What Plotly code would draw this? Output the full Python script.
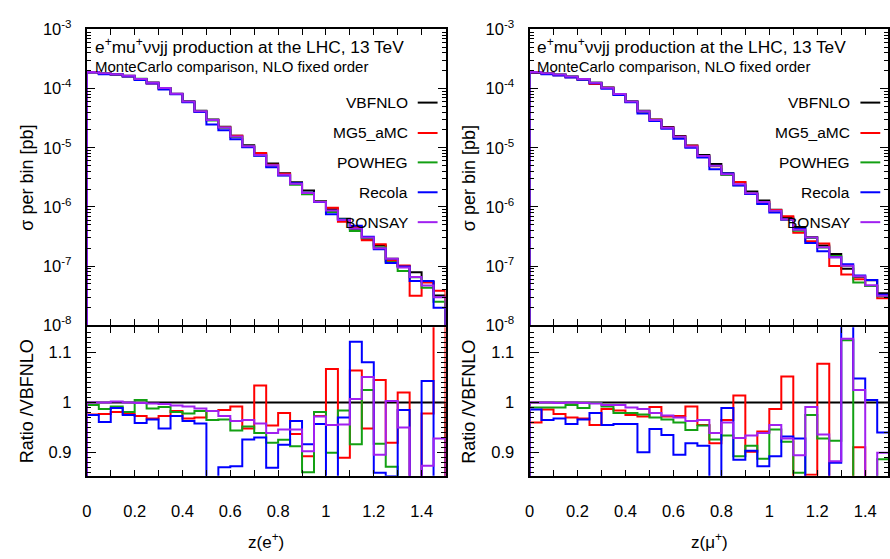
import plotly.graph_objects as go

W, H = 890, 559
FONT = "Liberation Sans, Arial, Helvetica, sans-serif"

# Bin edges in z (30 bins of width 0.05)
bin_edges = [round(0.05 * i, 2) for i in range(31)]

# ---------------- z(e+) ----------------
vbfnlo_e = [1.91e-4, 1.82e-4, 1.74e-4, 1.64e-4, 1.45e-4, 1.26e-4, 1.02e-4, 8.2e-5, 6.1e-5, 4.2e-5,
            3.0e-5, 2.26e-5, 1.60e-5, 1.10e-5, 7.9e-6, 5.4e-6, 3.7e-6, 2.6e-6, 1.9e-6, 1.26e-6,
            9.1e-7, 6.3e-7, 4.3e-7, 2.9e-7, 2.24e-7, 1.33e-7, 1.0e-7, 7.9e-8, 5.4e-8, 3.2e-8]
ratio_mg5_e = [0.976, 0.977, 0.981, 0.977, 0.973, 0.968, 0.973, 0.983, 0.968, 0.970,
               0.983, 0.985, 0.992, 0.948, 1.034, 0.954, 0.979, 0.937, 0.892, 0.973,
               1.067, 0.889, 1.064, 0.948, 1.045, 0.919, 1.020, 0.40, 0.978, 1.20]
ratio_powheg_e = [0.995, 0.987, 0.992, 0.981, 1.005, 0.988, 0.991, 0.981, 0.978, 0.983,
                  0.965, 0.966, 0.944, 0.952, 0.939, 0.919, 0.925, 0.912, 0.860, 0.981,
                  0.899, 0.984, 0.916, 1.025, 0.917, 0.871, 0.83, 0.82, 0.80, 0.78]
ratio_recola_e = [0.975, 0.961, 0.989, 0.975, 0.959, 0.966, 0.948, 0.973, 0.963, 0.958,
                  0.82, 0.870, 0.872, 0.926, 0.930, 0.869, 0.915, 0.963, 0.916, 0.957,
                  0.83, 0.970, 1.122, 1.081, 0.859, 0.852, 0.985, 0.71, 1.043, 0.62]
ratio_bonsay_e = [1.000, 1.000, 1.002, 1.000, 0.999, 0.998, 0.997, 0.994, 0.992, 0.988,
                  0.983, 0.973, 0.963, 0.965, 0.958, 0.939, 0.946, 0.946, 0.902, 0.972,
                  0.955, 0.956, 1.007, 1.051, 0.895, 1.003, 0.950, 0.83, 0.873, 0.928]

# ---------------- z(mu+) ----------------
vbfnlo_m = [1.90e-4, 1.81e-4, 1.72e-4, 1.60e-4, 1.45e-4, 1.25e-4, 1.04e-4, 8.1e-5, 6.1e-5, 4.2e-5,
            3.0e-5, 2.23e-5, 1.58e-5, 1.09e-5, 7.5e-6, 5.3e-6, 3.7e-6, 2.6e-6, 1.83e-6, 1.29e-6,
            9.0e-7, 6.6e-7, 4.6e-7, 3.07e-7, 2.23e-7, 1.6e-7, 9.0e-8, 6.6e-8, 5.8e-8, 3.5e-8]
ratio_mg5_m = [0.960, 0.986, 0.977, 0.970, 0.968, 0.955, 0.987, 0.984, 0.975, 0.972,
               0.991, 0.972, 0.973, 0.992, 0.955, 0.918, 0.965, 1.014, 0.901, 0.942,
               0.987, 1.052, 0.80, 0.855, 1.078, 0.63, 0.80, 0.910, 0.80, 0.82]
ratio_powheg_m = [0.990, 0.990, 0.990, 0.995, 0.989, 0.999, 0.992, 0.979, 0.979, 0.976,
                  0.970, 0.966, 0.960, 0.945, 0.954, 0.926, 0.934, 0.892, 0.913, 0.887,
                  0.946, 0.921, 0.859, 0.975, 0.928, 0.923, 1.125, 0.80, 0.80, 0.886]
ratio_recola_m = [0.986, 0.965, 0.968, 0.957, 0.966, 0.979, 0.955, 0.957, 0.957, 0.900,
                  0.947, 0.935, 0.895, 0.918, 0.913, 0.82, 0.989, 0.885, 0.903, 0.872,
                  0.892, 0.932, 0.928, 0.80, 0.80, 0.879, 1.20, 1.048, 1.005, 0.940]
ratio_bonsay_m = [1.000, 1.000, 0.999, 1.000, 0.999, 0.998, 0.995, 0.995, 0.990, 0.987,
                  0.979, 0.974, 0.970, 0.963, 0.965, 0.939, 0.960, 0.929, 0.934, 0.939,
                  0.955, 0.928, 0.894, 0.991, 0.936, 0.882, 1.128, 1.025, 0.82, 0.899]

generators = ["VBFNLO", "MG5_aMC", "POWHEG", "Recola", "BONSAY"]
colors = ["#000000", "#ff0000", "#13a013", "#0000ff", "#a020f0"]

panels = [
    {"vbf": vbfnlo_e,
     "ratios": [None, ratio_mg5_e, ratio_powheg_e, ratio_recola_e, ratio_bonsay_e],
     "xtitle": "z(e<sup>+</sup>)"},
    {"vbf": vbfnlo_m,
     "ratios": [None, ratio_mg5_m, ratio_powheg_m, ratio_recola_m, ratio_bonsay_m],
     "xtitle": "z(μ<sup>+</sup>)"},
]


def px(x):
    return x / W


def py(y):
    return 1 - y / H


def steps(edges, vals, floor):
    """Histogram outline: rises from the floor at the first edge, drops back at the last."""
    xs = [edges[0]] + list(edges) + [edges[-1]]
    ys = [floor] + list(vals) + [vals[-1], floor]
    return xs, ys


# Panel geometry (pixels)
x_doms = [(82.5, 444.0), (528.7, 890.0)]
x_ranges = [[0, 1.5], [0, 1.495]]
top_dom = (19, 326)
rat_dom = (328, 482)

fig = go.Figure()

for p, panel in enumerate(panels):
    top_x = "x" if p == 0 else "x3"
    top_y = "y" if p == 0 else "y3"
    rat_x = "x2" if p == 0 else "x4"
    rat_y = "y2" if p == 0 else "y4"
    vbf = panel["vbf"]
    for g, name in enumerate(generators):
        if g == 0:
            ratio = [v / v for v in vbf]
        else:
            ratio = panel["ratios"][g]
        sigma = [v * r for v, r in zip(vbf, ratio)]
        xs, ys = steps(bin_edges, sigma, 1e-10)
        fig.add_trace(go.Scatter(x=xs, y=ys, mode="lines", line=dict(color=colors[g], width=2, shape="hv"),
                                 name=name, showlegend=False, xaxis=top_x, yaxis=top_y, hoverinfo="skip"))
        xs, ys = steps(bin_edges, ratio, 0.0)
        fig.add_trace(go.Scatter(x=xs, y=ys, mode="lines", line=dict(color=colors[g], width=2, shape="hv"),
                                 name=name, showlegend=False, xaxis=rat_x, yaxis=rat_y, hoverinfo="skip"))

log_major = [10.0 ** e for e in range(-8, -2)]
log_text = ["10<sup>%d</sup>" % e for e in range(-8, -2)]
log_minor = [k * 10.0 ** e for e in range(-8, -3) for k in range(2, 10)]

TICK_FONT = dict(family=FONT, size=16.5, color="black")
common = dict(showline=True, linecolor="black", linewidth=2, mirror="ticks", ticks="inside",
              tickcolor="black", showgrid=False, zeroline=False, tickfont=TICK_FONT)

layout = dict(width=W, height=H, margin=dict(l=0, r=0, t=0, b=0),
              paper_bgcolor="white", plot_bgcolor="white", showlegend=False,
              font=dict(family=FONT, color="black"))

for p in range(2):
    xd = [px(x_doms[p][0]), px(x_doms[p][1])]
    tx = "xaxis" if p == 0 else "xaxis3"
    ty = "yaxis" if p == 0 else "yaxis3"
    rx = "xaxis2" if p == 0 else "xaxis4"
    ry = "yaxis2" if p == 0 else "yaxis4"
    top_anchor_y = "y" if p == 0 else "y3"
    top_anchor_x = "x" if p == 0 else "x3"
    rat_anchor_y = "y2" if p == 0 else "y4"
    rat_anchor_x = "x2" if p == 0 else "x4"

    layout[tx] = dict(common, domain=xd, range=x_ranges[p], anchor=top_anchor_y,
                      dtick=0.2, tick0=0, ticklen=6, tickwidth=1.2, showticklabels=False,
                      minor=dict(dtick=0.1, tick0=0, ticks="inside", ticklen=6, tickwidth=1.2, tickcolor="black"))
    layout[rx] = dict(common, domain=xd, range=x_ranges[p], anchor=rat_anchor_y,
                      dtick=0.2, tick0=0, ticklen=6, tickwidth=1.2, showticklabels=True,
                      ticklabelstandoff=19,
                      minor=dict(dtick=0.1, tick0=0, ticks="inside", ticklen=6, tickwidth=1.2, tickcolor="black"))
    layout[ty] = dict(common, domain=[py(top_dom[1]), py(top_dom[0])], type="log", range=[-8, -3],
                      anchor=top_anchor_x, tickmode="array", tickvals=log_major, ticktext=log_text,
                      ticklen=8, tickwidth=1.2, ticklabelstandoff=10,
                      minor=dict(tickmode="array", tickvals=log_minor, ticks="inside", ticklen=4,
                                 tickwidth=1, tickcolor="black"))
    layout[ry] = dict(common, domain=[py(rat_dom[1]), py(rat_dom[0])], range=[0.853, 1.151],
                      anchor=rat_anchor_x, tickmode="array", tickvals=[0.9, 1.0, 1.1],
                      ticktext=["0.9", "1", "1.1"], ticklen=9, tickwidth=1.2, ticklabelstandoff=10,
                      minor=dict(dtick=0.01, tick0=0.85, ticks="inside", ticklen=4.5, tickwidth=1,
                                 tickcolor="black"))

annotations = []
shapes = []
legend_y = [95, 126.5, 157, 188, 219]
for p in range(2):
    left, right = x_doms[p]
    # Process label inside the upper panel
    annotations.append(dict(x=px(left + 7), y=py(36), xref="paper", yref="paper", xanchor="left",
                            yanchor="middle", showarrow=False, borderpad=0,
                            text="e<sup>+</sup>mu<sup>+</sup>ννjj production at the LHC, 13 TeV",
                            font=dict(family=FONT, size=17.3, color="black")))
    annotations.append(dict(x=px(left + 7), y=py(57.5), xref="paper", yref="paper", xanchor="left",
                            yanchor="middle", showarrow=False, borderpad=0,
                            text="MonteCarlo comparison, NLO fixed order",
                            font=dict(family=FONT, size=15, color="black")))
    # Key: label followed by a short line sample
    frame_right = 445.0 if p == 0 else 891.2
    for g, name in enumerate(generators):
        annotations.append(dict(x=px(frame_right - 37), y=py(legend_y[g]), xref="paper", yref="paper",
                                xanchor="right", yanchor="middle", showarrow=False, text=name,
                                font=dict(family=FONT, size=15.5, color="black")))
        shapes.append(dict(type="line", xref="paper", yref="paper",
                           x0=px(frame_right - 29), x1=px(frame_right - 9),
                           y0=py(legend_y[g]), y1=py(legend_y[g]),
                           line=dict(color=colors[g], width=2)))
    # Axis titles
    annotations.append(dict(x=px((left + right + (1.2 if p == 1 else 0)) / 2), y=py(550), xref="paper",
                            yref="paper", xanchor="center", yanchor="middle", showarrow=False,
                            text=panels[p]["xtitle"], font=dict(family=FONT, size=17, color="black")))
    ytx = 22 if p == 0 else 467
    annotations.append(dict(x=px(ytx), y=py(173), xref="paper", yref="paper", xanchor="center",
                            yanchor="middle", showarrow=False, textangle=-90,
                            text="σ per bin [pb]", font=dict(family=FONT, size=18, color="black")))
    annotations.append(dict(x=px(ytx), y=py(405), xref="paper", yref="paper", xanchor="center",
                            yanchor="middle", showarrow=False, textangle=-90,
                            text="Ratio /VBFNLO", font=dict(family=FONT, size=18, color="black")))

layout["annotations"] = annotations
layout["shapes"] = shapes
fig.update_layout(**layout)

fig.write_html("out.html")
